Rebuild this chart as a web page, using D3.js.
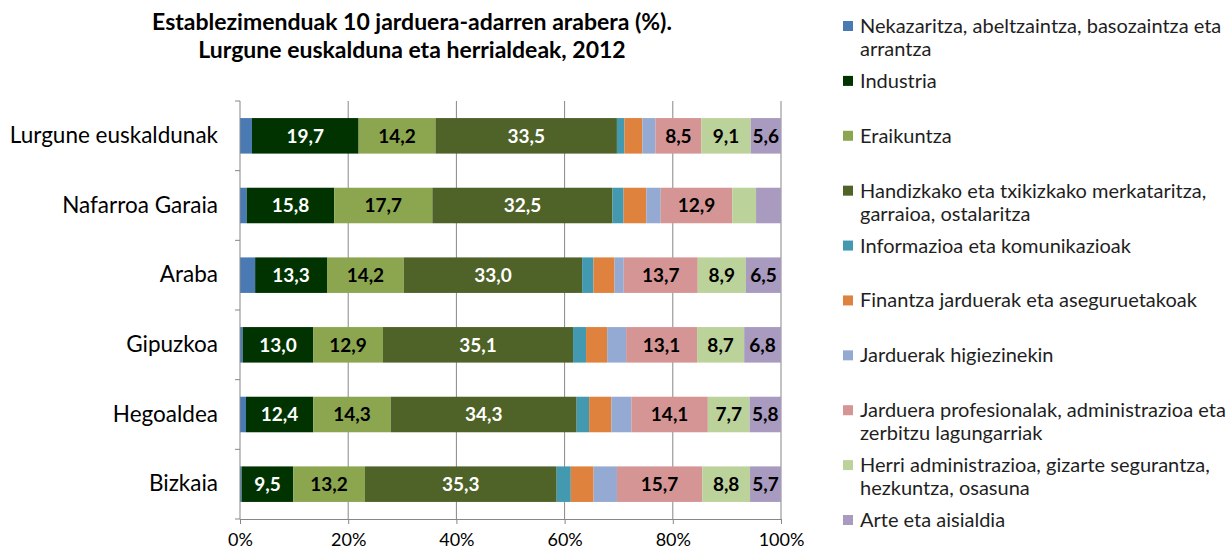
<!DOCTYPE html>
<html>
<head>
<meta charset="utf-8">
<script src="https://cdn.jsdelivr.net/npm/d3@7"></script>
<style>
  body { margin: 0; background: #fff; }
  svg { display: block; font-family: Lato, "Open Sans", sans-serif; }
</style>
</head>
<body>
<svg width="1231" height="551"></svg>
<script>
// categories (top to bottom)
var regions = ["Lurgune euskaldunak", "Nafarroa Garaia", "Araba", "Gipuzkoa", "Hegoaldea", "Bizkaia"];

// one array per activity branch, values in region order
var nekazaritza = [2.2, 1.2, 2.8, 0.5, 1.1, 0.3];
var industria = [19.7, 15.8, 13.3, 13.0, 12.4, 9.5];
var eraikuntza = [14.2, 17.7, 14.2, 12.9, 14.3, 13.2];
var merkataritza = [33.5, 32.5, 33.0, 35.1, 34.3, 35.3];
var informazioa = [1.4, 2.0, 2.1, 2.4, 2.3, 2.6];
var finantza = [3.3, 4.1, 3.9, 3.9, 4.1, 4.2];
var higiezinak = [2.4, 2.6, 1.7, 3.5, 3.7, 4.3];
var profesionalak = [8.5, 12.9, 13.7, 13.1, 14.1, 15.7];
var herriAdmin = [9.1, 4.3, 8.9, 8.7, 7.7, 8.8];
var arte = [5.6, 4.5, 6.5, 6.8, 5.8, 5.7];

var seriesNames = [
  "Nekazaritza, abeltzaintza, basozaintza eta\narrantza",
  "Industria",
  "Eraikuntza",
  "Handizkako eta txikizkako merkataritza,\ngarraioa, ostalaritza",
  "Informazioa eta komunikazioak",
  "Finantza jarduerak eta aseguruetakoak",
  "Jarduerak higiezinekin",
  "Jarduera profesionalak, administrazioa eta\nzerbitzu lagungarriak",
  "Herri administrazioa, gizarte segurantza,\nhezkuntza, osasuna",
  "Arte eta aisialdia"
];
var seriesValues = [nekazaritza, industria, eraikuntza, merkataritza, informazioa,
  finantza, higiezinak, profesionalak, herriAdmin, arte];
var seriesColors = ["#4a7ab4", "#003300", "#8ba64f", "#4f6228", "#4299b0",
  "#de823e", "#95aad2", "#d49594", "#bcd29b", "#a99abf"];
var labelColors = ["#000", "#fff", "#000", "#fff", "#000", "#000", "#000", "#000", "#000", "#000"];

var xTicks = [0, 0.2, 0.4, 0.6, 0.8, 1];
var titleLines = ["Establezimenduak 10 jarduera-adarren arabera (%).", "Lurgune euskalduna eta herrialdeak, 2012"];

var width = 1231, height = 551;
var margin = {top: 101, right: 450, bottom: 32, left: 240};
var plotW = width - margin.left - margin.right;
var plotH = height - margin.top - margin.bottom;

var svg = d3.select("svg");
var locale = d3.formatLocale({decimal: ",", thousands: ".", grouping: [3], currency: ["", "€"]});
var fmt = locale.format(".1f");

// table for the stack
var keys = d3.range(seriesNames.length);
var table = regions.map(function(r, i) {
  var row = {region: r};
  keys.forEach(function(k) { row[k] = seriesValues[k][i]; });
  return row;
});
var stacked = d3.stack().keys(keys).offset(d3.stackOffsetExpand)(table);

var x = d3.scaleLinear().domain([0, 1]).range([0, plotW]);
var y = d3.scaleBand().domain(regions).range([0, plotH]).paddingInner(0.49).paddingOuter(0.245);

var g = svg.append("g").attr("transform", "translate(" + margin.left + "," + margin.top + ")");

// vertical gridlines
g.append("g")
  .selectAll("line")
  .data(xTicks.slice(1))
  .join("line")
  .attr("x1", function(d) { return x(d); })
  .attr("x2", function(d) { return x(d); })
  .attr("y1", 0)
  .attr("y2", plotH)
  .style("stroke", "#878787")
  .style("stroke-width", 1);

// bars
var layer = g.selectAll(".layer")
  .data(stacked)
  .join("g")
  .attr("class", "layer")
  .style("fill", function(d) { return seriesColors[d.key]; });

layer.selectAll("rect")
  .data(function(d) { return d; })
  .join("rect")
  .attr("x", function(d) { return x(d[0]); })
  .attr("y", function(d) { return y(d.data.region); })
  .attr("width", function(d) { return x(d[1]) - x(d[0]); })
  .attr("height", y.bandwidth());

// value labels (segments of 5 % or more)
layer.selectAll("text")
  .data(function(d) { return d.map(function(p) { return {p: p, key: d.key}; }); })
  .join("text")
  .filter(function(d) { return d.p.data[d.key] >= 5; })
  .attr("x", function(d) { return (x(d.p[0]) + x(d.p[1])) / 2; })
  .attr("y", function(d) { return y(d.p.data.region) + y.bandwidth() / 2; })
  .attr("dy", "0.36em")
  .attr("text-anchor", "middle")
  .style("font-size", "19px")
  .style("font-weight", "bold")
  .style("fill", function(d) { return labelColors[d.key]; })
  .text(function(d) { return fmt(d.p.data[d.key]); });

// x axis
var xAxis = g.append("g")
  .attr("transform", "translate(0," + plotH + ")")
  .call(d3.axisBottom(x).tickValues(xTicks).tickFormat(d3.format(".0%")).tickSize(5).tickPadding(9));
xAxis.select(".domain").style("stroke", "#878787");
xAxis.selectAll(".tick line").style("stroke", "#878787");
xAxis.selectAll("text").style("font-size", "18px").style("fill", "#000").style("font-family", "Lato, sans-serif");

// y axis: labels at band centers, ticks at band boundaries
var yAxis = g.append("g")
  .call(d3.axisLeft(y).tickSize(0).tickPadding(22));
yAxis.select(".domain").remove();
yAxis.selectAll("text").style("font-size", "22.5px").style("fill", "#000").style("font-family", "Lato, sans-serif");

var bounds = d3.range(regions.length + 1).map(function(i) { return i * plotH / regions.length; });
g.append("line")
  .attr("x1", 0).attr("x2", 0).attr("y1", 0).attr("y2", plotH)
  .style("stroke", "#878787");
g.append("g").selectAll("line")
  .data(bounds)
  .join("line")
  .attr("x1", -5).attr("x2", 0)
  .attr("y1", function(d) { return d; })
  .attr("y2", function(d) { return d; })
  .style("stroke", "#878787");

// title
svg.append("g").selectAll("text")
  .data(titleLines)
  .join("text")
  .attr("x", 412)
  .attr("y", function(d, i) { return 22 + i * 28; })
  .attr("dy", "0.35em")
  .attr("text-anchor", "middle")
  .style("font-size", "23px")
  .style("font-weight", "bold")
  .style("fill", "#000")
  .text(function(d) { return d; });

// legend
var ly = d3.scaleLinear().domain([0, seriesNames.length - 1]).range([26, 520]);
var legend = svg.append("g").attr("transform", "translate(843,0)");
var item = legend.selectAll("g")
  .data(seriesNames)
  .join("g")
  .attr("transform", function(d, i) { return "translate(0," + ly(i) + ")"; });
item.append("rect")
  .attr("x", 0).attr("y", -5)
  .attr("width", 10).attr("height", 10)
  .style("fill", function(d, i) { return seriesColors[i]; });
item.append("text")
  .attr("x", 17)
  .style("font-size", "20px")
  .style("fill", "#1f1f1f")
  .selectAll("tspan")
  .data(function(d) { return d.split("\n"); })
  .join("tspan")
  .attr("x", 17)
  .attr("y", function(d, i) { return i * 23; })
  .attr("dy", "0.35em")
  .text(function(d) { return d; });
</script>
</body>
</html>
